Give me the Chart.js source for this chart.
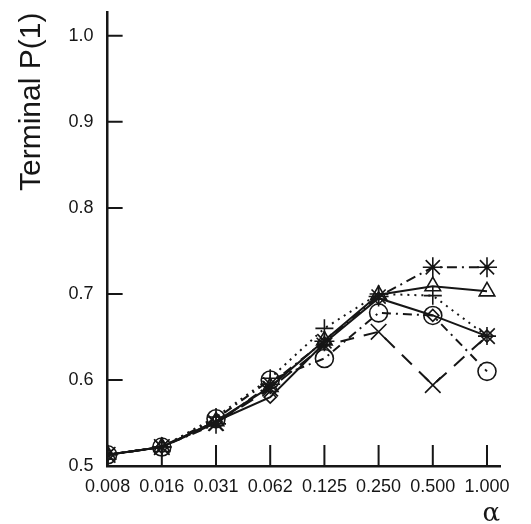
<!DOCTYPE html>
<html>
<head>
<meta charset="utf-8">
<script src="https://cdn.jsdelivr.net/npm/chart.js@4"></script>
<style>
html, body { margin: 0; padding: 0; background: #fff; }
</style>
</head>
<body>
<canvas id="myChart" width="531" height="524"></canvas>
<script>
// alpha values on the x axis
const alphaLabels = ['0.008', '0.016', '0.031', '0.062', '0.125', '0.250', '0.500', '1.000']

// terminal P(1) per series
const starValues     = [0.513, 0.522, 0.549, 0.595, 0.645, 0.697, 0.731, 0.731]
const triangleValues = [0.513, 0.522, 0.552, 0.592, 0.646, 0.699, 0.709, 0.703]
const diamondValues  = [0.513, 0.522, 0.552, 0.580, 0.643, 0.695, 0.675, 0.651]
const circleValues   = [0.513, 0.522, 0.555, 0.600, 0.625, 0.678, 0.675, 0.610]
const crossValues    = [0.513, 0.522, 0.550, 0.590, 0.640, 0.656, 0.594, 0.651]
const plusValues     = [0.513, 0.522, 0.557, 0.602, 0.660, 0.700, 0.698, 0.651]

const yTicks = [0.5, 0.6, 0.7, 0.8, 0.9, 1.0]

const ink = '#161616'
const toPoints = (values) => values.map((v, i) => ({ x: i, y: v }))

const series = (values, style, radius, dash) => ({
    data: toPoints(values),
    borderColor: ink,
    borderWidth: 2,
    borderDash: dash,
    pointStyle: style,
    pointRadius: radius,
    pointBorderColor: ink,
    pointBackgroundColor: 'rgba(0,0,0,0)',
    pointBorderWidth: 1.6,
    tension: 0,
})

// tick marks point into the plot in the original
const inwardTicks = {
    id: 'inwardTicks',
    afterDraw(chart) {
        const ctx = chart.ctx
        const x = chart.scales.x
        const y = chart.scales.y
        ctx.save()
        ctx.strokeStyle = ink
        ctx.lineWidth = 2
        ctx.beginPath()
        x.ticks.forEach((t) => {
            const px = x.getPixelForValue(t.value)
            ctx.moveTo(px, x.top)
            ctx.lineTo(px, x.top - 21)
        })
        y.ticks.forEach((t) => {
            const py = y.getPixelForValue(t.value)
            ctx.moveTo(y.right, py)
            ctx.lineTo(y.right + 15, py)
        })
        ctx.stroke()
        ctx.restore()
    }
}

Chart.defaults.font.family = '"Liberation Sans", Arial, sans-serif'
Chart.defaults.color = ink

const data = {
    datasets: [
        series(starValues, 'star', 10, [10, 5, 2, 5]),
        series(triangleValues, 'triangle', 9, []),
        series(diamondValues, 'rectRot', 6, []),
        series(circleValues, 'circle', 9, [9, 5, 2, 5]),
        series(crossValues, 'crossRot', 11, [14, 10]),
        series(plusValues, 'cross', 9, [2, 5]),
    ]
}

const config = {
    type: 'line',
    data: data,
    options: {
        responsive: false,
        animation: false,
        layout: { padding: { top: 8, right: 31, left: 10, bottom: 5 } },
        plugins: { legend: { display: false }, tooltip: { enabled: false } },
        scales: {
            x: {
                type: 'linear',
                min: 0,
                max: 7.24,
                grid: { display: false, drawTicks: false, tickLength: 0 },
                border: { display: true, color: ink, width: 2.5 },
                ticks: {
                    stepSize: 1,
                    includeBounds: false,
                    autoSkip: false,
                    maxRotation: 0,
                    padding: 10.5,
                    font: { size: 18 },
                    callback: (v) => alphaLabels[v] ?? '',
                },
                title: {
                    display: true,
                    text: 'α',
                    align: 'end',
                    font: { size: 26, family: '"DejaVu Serif", serif', lineHeight: 0.4 },
                    padding: { top: 0, bottom: 0 },
                },
            },
            y: {
                min: 0.5,
                max: 1.027,
                grid: { display: false, drawTicks: false, tickLength: 0 },
                border: { display: true, color: ink, width: 2.5 },
                afterBuildTicks: (axis) => { axis.ticks = yTicks.map((v) => ({ value: v })) },
                afterFit: (axis) => { axis.paddingTop = 0; axis.paddingBottom = 0 },
                ticks: {
                    padding: 14,
                    font: { size: 18 },
                    callback: (v) => v.toFixed(1),
                },
                title: {
                    display: true,
                    text: 'Terminal P(1)',
                    align: 'end',
                    font: { size: 30 },
                    padding: { top: 4, bottom: 4.6 },
                },
            },
        },
    },
    plugins: [inwardTicks],
}

const myChart = new Chart(document.getElementById('myChart'), config)
</script>
</body>
</html>
